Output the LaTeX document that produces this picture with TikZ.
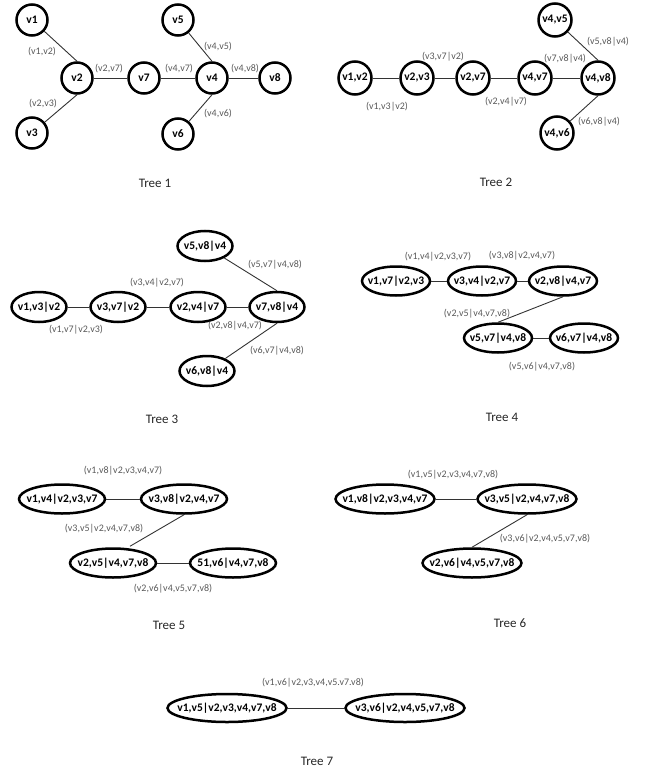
\documentclass[tikz,border=0pt]{standalone}
\usepackage{fontspec}
\setmainfont{Carlito}
\usetikzlibrary{shapes.geometric}
\newcommand{\bagtext}[1]{\makebox[0pt]{#1}}

\begin{document}
\begin{tikzpicture}[x=1pt,y=-1pt,
    vtx/.style={draw,circle,line width=2.5pt,inner sep=0pt,minimum size=31pt,font=\fontsize{11.5}{12}\selectfont\bfseries},
    bag/.style={draw,ellipse,line width=2.5pt,inner sep=0pt,minimum height=29pt,font=\fontsize{11.5}{12}\selectfont\bfseries},
    sep/.style={inner sep=0pt,text=black!65,font=\fontsize{10}{11}\selectfont},
    treename/.style={inner sep=0pt,text=black!85,font=\fontsize{13}{14}\selectfont},
    wire/.style={draw=black!80,line width=0.9pt}]
  \useasboundingbox (0,0) rectangle (647,773);

  % Tree 1
  \node[vtx] (t1v1) at (32,20) {v1};
  \node[vtx] (t1v2) at (77,78) {v2};
  \node[vtx] (t1v3) at (32,133) {v3};
  \node[vtx] (t1v7) at (144,78) {v7};
  \node[vtx] (t1v4) at (212,78) {v4};
  \node[vtx] (t1v5) at (178,20) {v5};
  \node[vtx] (t1v6) at (178,134) {v6};
  \node[vtx] (t1v8) at (275,78) {v8};
  \draw[wire] (t1v1) -- (t1v2.north);
  \draw[wire] (t1v3) -- (t1v2.south);
  \draw[wire] (t1v2) -- (t1v7);
  \draw[wire] (t1v7) -- (t1v4);
  \draw[wire] (t1v4) -- (t1v8);
  \draw[wire] (t1v5) -- (t1v4.north);
  \draw[wire] (t1v6) -- (t1v4.south);
  \node[sep] (t1e12) at (42,52) {(v1,v2)};
  \node[sep] (t1e23) at (43,104) {(v2,v3)};
  \node[sep] (t1e27) at (109,69) {(v2,v7)};
  \node[sep] (t1e47) at (179,69) {(v4,v7)};
  \node[sep] (t1e48) at (245,69) {(v4,v8)};
  \node[sep] (t1e45) at (218,47) {(v4,v5)};
  \node[sep] (t1e46) at (218,114) {(v4,v6)};
  \node[treename] (t1) at (155,183) {Tree 1};

  % Tree 2
  \node[vtx,minimum size=33pt] (t2v12) at (355,78) {v1,v2};
  \node[vtx,minimum size=33pt] (t2v23) at (417,78) {v2,v3};
  \node[vtx,minimum size=33pt] (t2v27) at (473,78) {v2,v7};
  \node[vtx,minimum size=33pt] (t2v47) at (535,78) {v4,v7};
  \node[vtx,minimum size=33pt] (t2v48) at (598,78) {v4,v8};
  \node[vtx,minimum size=33pt] (t2v45) at (555,20) {v4,v5};
  \node[vtx,minimum size=33pt] (t2v46) at (557,133) {v4,v6};
  \draw[wire] (t2v12) -- (t2v23);
  \draw[wire] (t2v23) -- (t2v27);
  \draw[wire] (t2v27) -- (t2v47);
  \draw[wire] (t2v47) -- (t2v48);
  \draw[wire] (t2v45) -- (t2v48.north);
  \draw[wire] (t2v46) -- (t2v48.south);
  \node[sep] (t2e1) at (387,107) {(v1,v3|v2)};
  \node[sep] (t2e2) at (443,57) {(v3,v7|v2)};
  \node[sep] (t2e3) at (506,102) {(v2,v4|v7)};
  \node[sep] (t2e4) at (565,59) {(v7,v8|v4)};
  \node[sep] (t2e5) at (608,42) {(v5,v8|v4)};
  \node[sep] (t2e6) at (599,122) {(v6,v8|v4)};
  \node[treename] (t2) at (496,182) {Tree 2};

  % Tree 3
  \node[bag,minimum width=55pt,minimum height=30pt] (t3a) at (39,307) {\bagtext{v1,v3|v2}};
  \node[bag,minimum width=55pt,minimum height=30pt] (t3b) at (118,307) {\bagtext{v3,v7|v2}};
  \node[bag,minimum width=55pt,minimum height=30pt] (t3c) at (198,307) {\bagtext{v2,v4|v7}};
  \node[bag,minimum width=55pt,minimum height=30pt] (t3d) at (277,307) {\bagtext{v7,v8|v4}};
  \node[bag,minimum width=55pt,minimum height=30pt] (t3e) at (205,246) {\bagtext{v5,v8|v4}};
  \node[bag,minimum width=55pt,minimum height=30pt] (t3f) at (207,371) {\bagtext{v6,v8|v4}};
  \draw[wire] (t3a) -- (t3b);
  \draw[wire] (t3b) -- (t3c);
  \draw[wire] (t3c) -- (t3d);
  \draw[wire] (t3e) -- (t3d.north);
  \draw[wire] (t3f) -- (t3d.south);
  \node[sep] (t3e1) at (76,330) {(v1,v7|v2,v3)};
  \node[sep] (t3e2) at (157,283) {(v3,v4|v2,v7)};
  \node[sep] (t3e3) at (235,326) {(v2,v8|v4,v7)};
  \node[sep] (t3e4) at (275,265) {(v5,v7|v4,v8)};
  \node[sep] (t3e5) at (277,351) {(v6,v7|v4,v8)};
  \node[treename] (t3) at (162,419) {Tree 3};

  % Tree 4
  \node[bag,minimum width=68pt] (t4a) at (396,281) {\bagtext{v1,v7|v2,v3}};
  \node[bag,minimum width=68pt] (t4b) at (482,281) {\bagtext{v3,v4|v2,v7}};
  \node[bag,minimum width=68pt] (t4c) at (563,281) {\bagtext{v2,v8|v4,v7}};
  \node[bag,minimum width=68pt] (t4d) at (498,338) {\bagtext{v5,v7|v4,v8}};
  \node[bag,minimum width=68pt] (t4e) at (584,338) {\bagtext{v6,v7|v4,v8}};
  \draw[wire] (t4a) -- (t4b);
  \draw[wire] (t4b) -- (t4c);
  \draw[wire] (t4c.south) -- (t4d.north);
  \draw[wire] (t4d) -- (t4e);
  \node[sep] (t4e1) at (438,257) {(v1,v4|v2,v3,v7)};
  \node[sep] (t4e2) at (522,256) {(v3,v8|v2,v4,v7)};
  \node[sep] (t4e3) at (477,314) {(v2,v5|v4,v7,v8)};
  \node[sep] (t4e4) at (542,367) {(v5,v6|v4,v7,v8)};
  \node[treename] (t4) at (502,417) {Tree 4};

  % Tree 5
  \node[bag,minimum width=86pt] (t5a) at (62,499) {\bagtext{v1,v4|v2,v3,v7}};
  \node[bag,minimum width=86pt] (t5b) at (184,499) {\bagtext{v3,v8|v2,v4,v7}};
  \node[bag,minimum width=86pt] (t5c) at (113,563) {\bagtext{v2,v5|v4,v7,v8}};
  \node[bag,minimum width=86pt] (t5d) at (233,563) {\bagtext{51,v6|v4,v7,v8}};
  \draw[wire] (t5a) -- (t5b);
  \draw[wire] (t5b.south) -- ([xshift=17pt,yshift=1pt]t5c.north);
  \draw[wire] (t5c) -- (t5d);
  \node[sep] (t5e1) at (123,471) {(v1,v8|v2,v3,v4,v7)};
  \node[sep] (t5e2) at (104,529) {(v3,v5|v2,v4,v7,v8)};
  \node[sep] (t5e3) at (173,589) {(v2,v6|v4,v5,v7,v8)};
  \node[treename] (t5) at (169,625) {Tree 5};

  % Tree 6
  \node[bag,minimum width=99pt] (t6a) at (385,499) {\bagtext{v1,v8|v2,v3,v4,v7}};
  \node[bag,minimum width=99pt] (t6b) at (527,499) {\bagtext{v3,v5|v2,v4,v7,v8}};
  \node[bag,minimum width=99pt] (t6c) at (472,563) {\bagtext{v2,v6|v4,v5,v7,v8}};
  \draw[wire] (t6a) -- (t6b);
  \draw[wire] (t6b.south) -- (t6c.north);
  \node[sep] (t6e1) at (453,475) {(v1,v5|v2,v3,v4,v7,v8)};
  \node[sep] (t6e2) at (545,539) {(v3,v6|v2,v4,v5,v7,v8)};
  \node[treename] (t6) at (510,623) {Tree 6};

  % Tree 7
  \node[bag,minimum width=119pt,minimum height=28pt] (t7a) at (227,708) {\bagtext{v1,v5|v2,v3,v4,v7,v8}};
  \node[bag,minimum width=119pt,minimum height=28pt] (t7b) at (405,708) {\bagtext{v3,v6|v2,v4,v5,v7,v8}};
  \draw[wire] (t7a) -- (t7b);
  \node[sep] (t7e1) at (313,683) {(v1,v6|v2,v3,v4,v5.v7.v8)};
  \node[treename] (t7) at (317,761) {Tree 7};
\end{tikzpicture}
\end{document}
